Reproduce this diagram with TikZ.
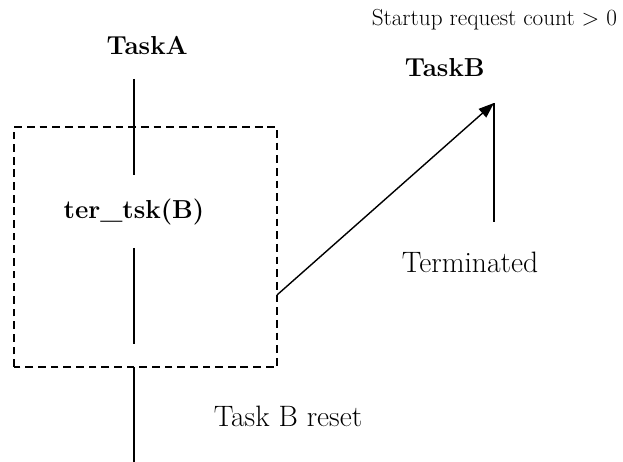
\documentclass[tikz,border=0pt]{standalone}
\usetikzlibrary{arrows.meta}
\begin{document}
\begin{tikzpicture}[
    tasklabel/.style={font=\fontsize{18.5}{22}\selectfont\bfseries},
    statelabel/.style={font=\fontsize{21}{25}\selectfont},
    notelabel/.style={font=\fontsize{16.5}{19}\selectfont},
    timeline/.style={line width=1pt},
    resetbox/.style={line width=1pt,dash pattern=on 5.5pt off 3.5pt}
  ]
  \useasboundingbox (0,0) rectangle (15.575,11.55);
  % labels
  \node[tasklabel] (taskA) at (3.68,10.42) {TaskA};
  \node[tasklabel] (taskB) at (11.12,9.85) {TaskB};
  \node[notelabel,anchor=east] (startup) at (15.55,11.05) {Startup request count > 0};
  \node[tasklabel] (tertsk) at (3.35,6.25) {ter\_tsk(B)};
  \node[statelabel] (terminated) at (11.75,5.0) {Terminated};
  \node[statelabel] (reset) at (7.2,1.15) {Task B reset};
  % points on the time lines
  \coordinate (a1) at (3.35,9.575);
  \coordinate (a2) at (3.35,7.175);
  \coordinate (a3) at (3.35,5.35);
  \coordinate (a4) at (3.35,2.95);
  \coordinate (a5) at (3.35,2.375);
  \coordinate (a6) at (3.35,0);
  \coordinate (from) at (6.925,4.175);
  \coordinate (b1) at (12.35,8.975);
  \coordinate (b2) at (12.35,6.0);
  % task A
  \draw[timeline] (a1) -- (a2);
  \draw[timeline] (a3) -- (a4);
  \draw[timeline] (a5) -- (a6);
  % task B
  \draw[timeline] (b1) -- (b2);
  \draw[timeline,-{Triangle[length=11pt,width=8pt]}] (from) -- (b1);
  % reset
  \draw[resetbox] (0.35,2.375) rectangle (6.925,8.375);
\end{tikzpicture}
\end{document}
